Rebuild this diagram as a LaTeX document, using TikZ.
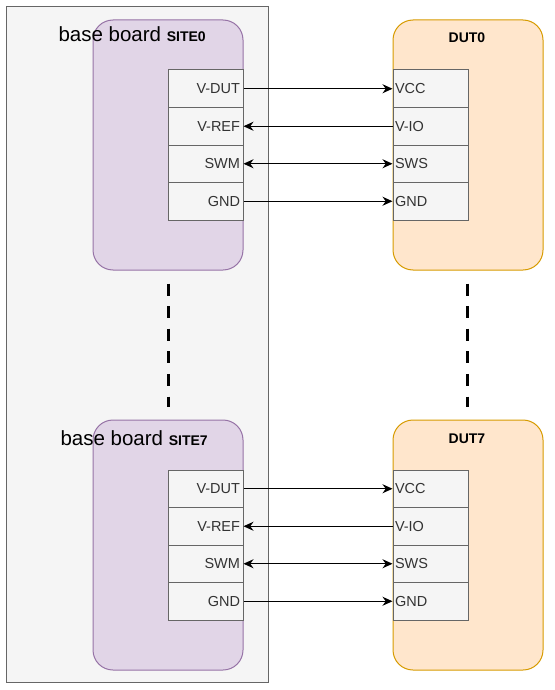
\documentclass[tikz,border=0pt]{standalone}
\usepackage{fontspec}
\setmainfont{Liberation Sans}
\usetikzlibrary{positioning,arrows.meta}
\definecolor{boardfill}{HTML}{F5F5F5}
\definecolor{boardline}{HTML}{666666}
\definecolor{sitefill}{HTML}{E1D5E7}
\definecolor{siteline}{HTML}{9673A6}
\definecolor{dutfill}{HTML}{FFE6CC}
\definecolor{dutline}{HTML}{D79B00}
\definecolor{celltext}{HTML}{333333}

\begin{document}
\begin{tikzpicture}[x=1pt,y=-1pt,node distance=-1pt,line width=1pt,
  board/.style={draw=boardline,fill=boardfill,minimum width=262pt,minimum height=675pt,inner sep=0pt},
  site/.style={draw=siteline,fill=sitefill,rounded corners=20pt,minimum width=150pt,minimum height=250pt,inner sep=0pt},
  dut/.style={draw=dutline,fill=dutfill,rounded corners=20pt,minimum width=150pt,minimum height=250pt,inner sep=0pt},
  pinL/.style={draw=boardline,fill=boardfill,text=celltext,minimum height=37.5pt,text width=69pt,inner xsep=3pt,align=right,font=\fontsize{14.5}{17}\selectfont},
  pinR/.style={draw=boardline,fill=boardfill,text=celltext,minimum height=37.5pt,text width=71pt,inner xsep=2pt,align=left,font=\fontsize{14.5}{17}\selectfont},
  wire/.style={-{Stealth[length=10pt,width=9pt]}},
  wire2/.style={{Stealth[length=10pt,width=9pt]}-{Stealth[length=10pt,width=9pt]}},
  gap/.style={line width=3pt,dash pattern=on 12pt off 10.6pt,shorten <=13pt,shorten >=13pt}]
  \useasboundingbox (0,0) rectangle (554,690);

  \node[board] (board) at (137,344.5) {};

  \node[site] (site0) at (168,145) {};
  \node[site] (site7) at (168,545) {};
  \node[dut] (dut0) at (468,145) {};
  \node[dut] (dut7) at (468,545) {};

  \node[anchor=base west,inner sep=0pt] (title0) at (58,42) {\fontsize{20.5}{24}\selectfont base board {\fontsize{14}{16}\selectfont\bfseries SITE0}};
  \node[anchor=base west,inner sep=0pt] (title7) at (60,445) {\fontsize{20.5}{24}\selectfont base board {\fontsize{14}{16}\selectfont\bfseries SITE7}};
  \node[anchor=base,font=\fontsize{14}{16}\selectfont\bfseries] (name0) at (467,43) {DUT0};
  \node[anchor=base,font=\fontsize{14}{16}\selectfont\bfseries] (name7) at (467,443) {DUT7};

  % site 0 and dut 0
  \node[pinL] (vdut0) at (205.5,88.75) {V-DUT};
  \node[pinL,below=of vdut0] (vref0) {V-REF};
  \node[pinL,below=of vref0] (swm0) {SWM};
  \node[pinL,below=of swm0] (gndA0) {GND};
  \node[pinR] (vcc0) at (430.5,88.75) {VCC};
  \node[pinR,below=of vcc0] (vio0) {V-IO};
  \node[pinR,below=of vio0] (sws0) {SWS};
  \node[pinR,below=of sws0] (gndB0) {GND};

  % site 7 and dut 7
  \node[pinL] (vdut7) at (205.5,488.75) {V-DUT};
  \node[pinL,below=of vdut7] (vref7) {V-REF};
  \node[pinL,below=of vref7] (swm7) {SWM};
  \node[pinL,below=of swm7] (gndA7) {GND};
  \node[pinR] (vcc7) at (430.5,488.75) {VCC};
  \node[pinR,below=of vcc7] (vio7) {V-IO};
  \node[pinR,below=of vio7] (sws7) {SWS};
  \node[pinR,below=of sws7] (gndB7) {GND};

  \draw[wire] (vdut0.east) -- (vcc0.west);
  \draw[wire] (vio0.west) -- (vref0.east);
  \draw[wire2] (swm0.east) -- (sws0.west);
  \draw[wire] (gndA0.east) -- (gndB0.west);

  \draw[wire] (vdut7.east) -- (vcc7.west);
  \draw[wire] (vio7.west) -- (vref7.east);
  \draw[wire2] (swm7.east) -- (sws7.west);
  \draw[wire] (gndA7.east) -- (gndB7.west);

  \draw[gap] (site0.south) -- (site7.north);
  \draw[gap] ([xshift=-1pt]dut0.south) -- ([xshift=-1pt]dut7.north);
\end{tikzpicture}
\end{document}
